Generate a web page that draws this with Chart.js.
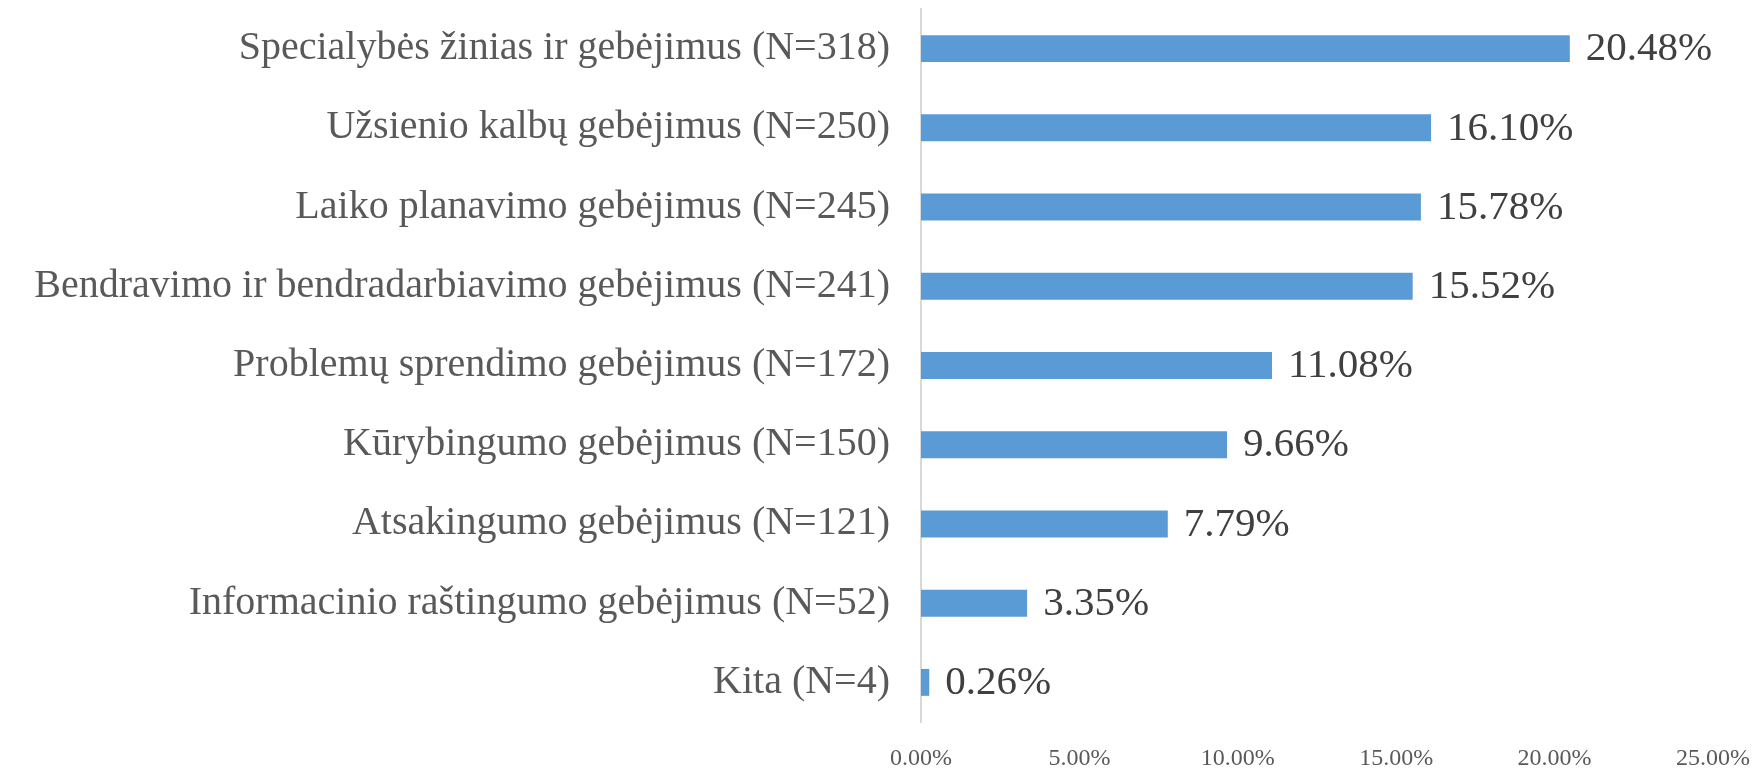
<!DOCTYPE html>
<html>
<head>
<meta charset="utf-8">
<script src="https://cdn.jsdelivr.net/npm/chart.js@4/dist/chart.umd.min.js"></script>
<style>
  html, body { margin: 0; padding: 0; background: #ffffff; }
  #wrap { width: 1761px; height: 768px; position: relative; }
</style>
</head>
<body>
<div id="wrap"><canvas id="c" width="1761" height="768"></canvas></div>
<script>
const categories = [
  "Specialybės žinias ir gebėjimus (N=318)",
  "Užsienio kalbų gebėjimus (N=250)",
  "Laiko planavimo gebėjimus (N=245)",
  "Bendravimo ir bendradarbiavimo gebėjimus (N=241)",
  "Problemų sprendimo gebėjimus (N=172)",
  "Kūrybingumo gebėjimus (N=150)",
  "Atsakingumo gebėjimus (N=121)",
  "Informacinio raštingumo gebėjimus (N=52)",
  "Kita (N=4)"
];
const shares = [20.48, 16.10, 15.78, 15.52, 11.08, 9.66, 7.79, 3.35, 0.26];
const axisMin = 0;
const axisMax = 25;
const axisStep = 5;

const FONT = "'Liberation Serif', 'Times New Roman', serif";

const valueLabels = {
  id: 'valueLabels',
  afterDatasetsDraw(chart) {
    const ctx = chart.ctx;
    const meta = chart.getDatasetMeta(0);
    ctx.save();
    ctx.font = "41px " + FONT;
    ctx.fillStyle = '#404040';
    ctx.textAlign = 'left';
    ctx.textBaseline = 'middle';
    meta.data.forEach((bar, i) => {
      ctx.fillText(shares[i].toFixed(2) + '%', bar.x + 16, bar.y + 1);
    });
    ctx.restore();
  }
};

new Chart(document.getElementById('c'), {
  type: 'bar',
  data: {
    labels: categories,
    datasets: [{
      data: shares,
      backgroundColor: '#5b9bd5',
      borderWidth: 0,
      categoryPercentage: 1.0,
      barPercentage: 0.34
    }]
  },
  options: {
    indexAxis: 'y',
    responsive: false,
    animation: false,
    layout: { padding: { top: 9, right: 48, bottom: 0, left: 0 } },
    plugins: {
      legend: { display: false },
      tooltip: { enabled: false }
    },
    scales: {
      y: {
        type: 'category',
        grid: { display: false, drawTicks: false },
        border: { display: true, color: '#d9d9d9', width: 2 },
        ticks: {
          color: '#595959',
          padding: 31,
          font: { family: FONT, size: 40 }
        },
        afterFit(scale) {
          scale.width = 921;
          scale.paddingTop = 0;
          scale.paddingBottom = 0;
        }
      },
      x: {
        min: axisMin,
        max: axisMax,
        grid: { display: false, drawTicks: false },
        border: { display: false },
        ticks: {
          stepSize: axisStep,
          color: '#595959',
          padding: 22,
          maxRotation: 0,
          font: { family: FONT, size: 24 },
          callback: (v) => Number(v).toFixed(2) + '%'
        },
        afterFit(scale) {
          scale.height = 46;
          scale.paddingLeft = 0;
          scale.paddingRight = 0;
        }
      }
    }
  },
  plugins: [valueLabels]
});
</script>
</body>
</html>
